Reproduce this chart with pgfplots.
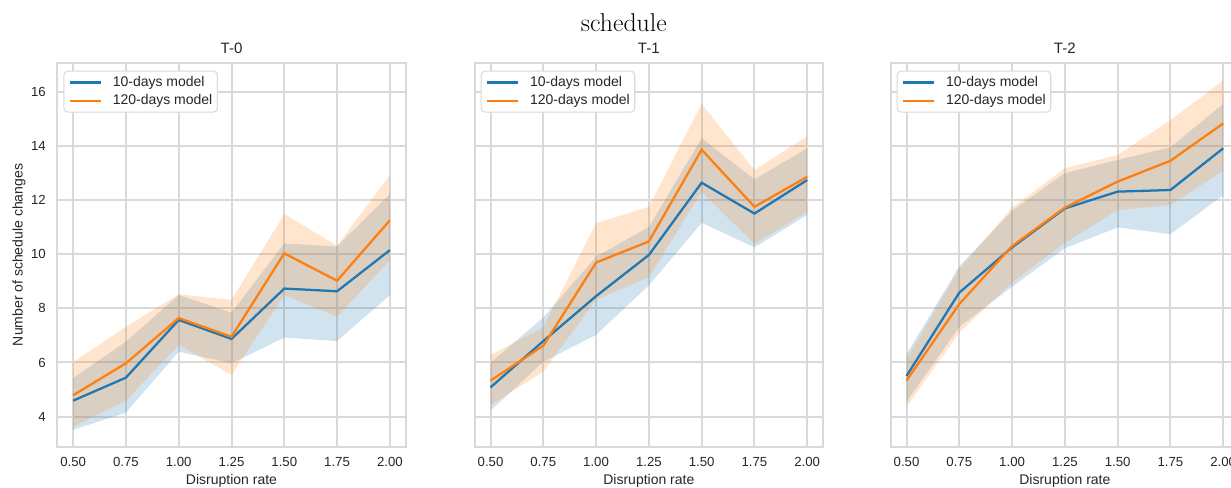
\documentclass[border=0pt]{standalone}
\usepackage{fontspec}
\usepackage{pgfplots}
\pgfplotsset{compat=1.18}
\usepackage{pgfplotstable}
\usepgfplotslibrary{fillbetween}

\newfontfamily\arial{Liberation Sans}

\definecolor{tabblue}{HTML}{1F77B4}
\definecolor{taborange}{HTML}{FF7F0E}
\definecolor{gridgray}{HTML}{D9D9D9}
\definecolor{txt}{HTML}{262626}

% columns: disruption rate, 10-days mean/low/high, 120-days mean/low/high
\pgfplotstableread{
x    bm    blo   bhi   om    olo   ohi
0.50 4.59  3.51  5.42  4.79  3.63  6.01
0.75 5.44  4.15  6.77  5.97  4.59  7.32
1.00 7.57  6.40  8.49  7.64  6.65  8.52
1.25 6.87  5.97  7.84  6.95  5.54  8.31
1.50 8.73  6.92  10.40 10.03 8.49  11.48
1.75 8.63  6.79  10.28 9.02  7.69  10.31
2.00 10.15 8.49  12.22 11.25 9.78  12.92
}\Tzero

\pgfplotstableread{
x    bm    blo   bhi   om    olo   ohi
0.50 5.08  4.22  5.99  5.33  4.43  6.28
0.75 6.79  6.03  7.66  6.62  5.66  7.30
1.00 8.45  7.02  9.91  9.69  8.31  11.14
1.25 9.97  8.85  11.00 10.47 9.15  11.75
1.50 12.64 11.16 14.28 13.86 12.30 15.55
1.75 11.50 10.25 12.76 11.75 10.38 13.11
2.00 12.74 11.45 13.91 12.86 11.57 14.36
}\Tone

\pgfplotstableread{
x    bm    blo   bhi   om    olo   ohi
0.50 5.50  4.55  6.30  5.33  4.37  6.12
0.75 8.58  7.32  9.55  8.16  7.10  9.45
1.00 10.25 8.80  11.60 10.30 8.95  11.72
1.25 11.69 10.22 12.99 11.72 10.42 13.17
1.50 12.31 10.99 13.48 12.68 11.63 13.66
1.75 12.37 10.74 13.95 13.45 11.82 14.95
2.00 13.91 12.18 15.55 14.83 13.08 16.41
}\Ttwo

\pgfplotsset{
  panel/.style={
    scale only axis, width=261.3pt, height=287.55pt, anchor=south west,
    axis background/.style={fill=white},
    xmin=0.425, xmax=2.075, ymin=2.89, ymax=17.05,
    xtick={0.5,0.75,1,1.25,1.5,1.75,2}, ytick={4,6,8,10,12,14,16},
    grid=major, major grid style={gridgray, line width=1.5pt},
    axis line style={gridgray, line width=1.5pt},
    major tick length=0pt, tick style={draw=none},
    /pgf/number format/assume math mode=true,
    xticklabel={\pgfmathprintnumber[fixed, fixed zerofill, precision=2]{\tick}},
    xticklabel style={font=\arial\fontsize{9.9}{12}\selectfont, text=txt,
      anchor=base, inner sep=0pt, yshift=-15.2pt},
    yticklabel style={font=\arial\fontsize{9.9}{12}\selectfont, text=txt,
      anchor=east, inner sep=0pt, xshift=-8.5pt},
    every axis title shift=0pt,
    title style={font=\arial\fontsize{11.3}{13}\selectfont, text=txt,
      at={(axis description cs:0.5,1)}, anchor=base, yshift=7pt},
    xlabel={Disruption rate},
    xlabel style={font=\arial\fontsize{10.5}{12}\selectfont, text=txt,
      at={(axis description cs:0.5,-0.0974)}, anchor=base},
    legend style={at={(axis description cs:0,1)}, anchor=north west,
      xshift=4.5pt, yshift=-5.5pt, draw=gridgray, line width=0.8pt,
      rounded corners=3pt, fill=white,
      font=\arial\fontsize{10.5}{12}\selectfont, text=txt,
      inner xsep=3.75pt, inner ysep=4pt, row sep=4.5pt,
      nodes={inner sep=0pt},
      /tikz/every odd column/.append style={column sep=8.25pt}},
    legend cell align=left,
    legend image code/.code={\draw[#1, line width=1.7pt] (0pt,0pt) -- (23pt,0pt);},
  },
  band/.style={draw=none, forget plot},
}

% one panel: bands and mean lines of both models
\newcommand{\panelplots}[1]{%
  \addplot[band, name path=bhi] table[x=x, y=bhi] {#1};
  \addplot[band, name path=blo] table[x=x, y=blo] {#1};
  \addplot[fill=tabblue, fill opacity=0.2, draw=none, forget plot] fill between[of=bhi and blo];
  \addplot[tabblue, line width=1.7pt] table[x=x, y=bm] {#1};
  \addplot[band, name path=ohi] table[x=x, y=ohi] {#1};
  \addplot[band, name path=olo] table[x=x, y=olo] {#1};
  \addplot[fill=taborange, fill opacity=0.2, draw=none, forget plot] fill between[of=ohi and olo];
  \addplot[taborange, line width=1.7pt] table[x=x, y=om] {#1};
  \legend{10-days model, 120-days model}
}

\begin{document}
\begin{tikzpicture}
\node[anchor=base, font=\fontsize{19.3}{23}\selectfont] at (467.9pt,342.2pt) {schedule};

\begin{axis}[panel, at={(42.98pt,30.98pt)}, title={T-0},
  ylabel={Number of schedule changes},
  ylabel style={font=\arial\fontsize{10.5}{12}\selectfont, text=txt,
    at={(axis description cs:-0.1098,0.5)}, anchor=center}]
\panelplots{\Tzero}
\end{axis}

\begin{axis}[panel, at={(356.0pt,30.98pt)}, title={T-1}, yticklabels={}]
\panelplots{\Tone}
\end{axis}

\begin{axis}[panel, at={(668.0pt,30.98pt)}, title={T-2}, yticklabels={}]
\panelplots{\Ttwo}
\end{axis}

% page frame: the right panel runs past the edge
\pgfresetboundingbox
\useasboundingbox (0,0) rectangle (923.25pt,366pt);
\end{tikzpicture}
\end{document}
